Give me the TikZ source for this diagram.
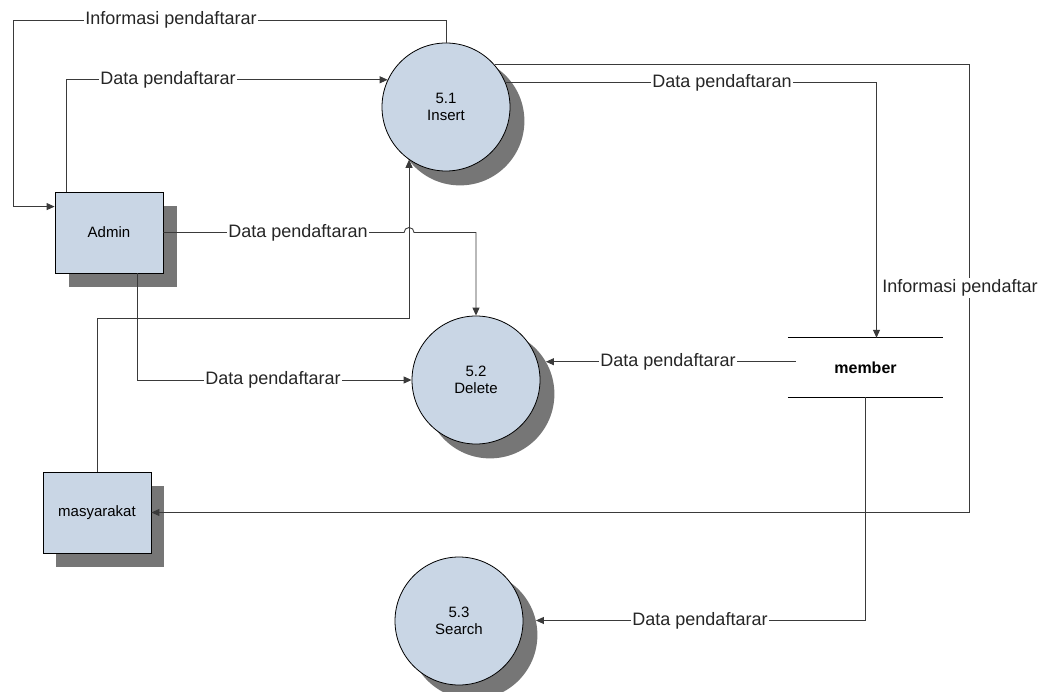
\documentclass[tikz,border=0pt]{standalone}
\usepackage{fontspec}
\setmainfont{Liberation Sans}
\usetikzlibrary{arrows.meta,calc}
\definecolor{procfill}{HTML}{C9D6E5}
\definecolor{shade}{HTML}{767676}
\definecolor{ln}{HTML}{3A3A3A}
\begin{document}
\begin{tikzpicture}[x=1pt,y=-1pt,
  proc/.style={circle,draw=black,fill=procfill,minimum size=128pt,inner sep=0pt,align=center,line width=0.8pt,font=\fontsize{15}{17}\selectfont},
  procshadow/.style={circle,fill=shade,minimum size=128.8pt,inner sep=0pt},
  ent/.style={rectangle,draw=black,fill=procfill,minimum width=108pt,minimum height=81pt,line width=0.8pt,font=\fontsize{15}{17}\selectfont},
  entshadow/.style={rectangle,fill=shade,minimum width=108.8pt,minimum height=81.8pt},
  store/.style={rectangle,minimum width=155pt,minimum height=59pt,inner sep=0pt,font=\fontsize{16}{18}\selectfont\bfseries},
  flow/.style={draw=ln,line width=0.9pt,-{Triangle[length=8pt,width=7pt]}},
  plain/.style={draw=ln,line width=0.9pt},
  lbl/.style={fill=white,inner sep=1.5pt,font=\fontsize{18}{20}\selectfont,text=black!85}]
\useasboundingbox (0,0) rectangle (1041,692);

% shadows
\node[procshadow] (insS) at (460,121) {};
\node[procshadow] (delS) at (490,394) {};
\node[procshadow] (seaS) at (473,635) {};
\node[entshadow] (admS) at (123,246.5) {};
\node[entshadow] (masS) at (110,526.5) {};

% main nodes
\node[proc] (ins) at (446,107) {5.1\\Insert};
\node[proc] (del) at (476,380) {5.2\\Delete};
\node[proc] (sea) at (459,621) {5.3\\Search};
\node[ent] (adm) at (109,232.5) {Admin};
\node[ent] (mas) at (97,512.5) {masyarakat};
\node[store] (mem) at (865.5,367.5) {member};
\draw[line width=0.9pt,black] (mem.north west) -- (mem.north east)
  (mem.south west) -- (mem.south east);

% helper coordinates
\coordinate (tl) at (13,20);
\coordinate (y318) at (0,318);
\coordinate (k1) at (ins.235 |- y318);
\coordinate (hop) at (ins.235 |- adm.east);
\coordinate (r1) at (969,288);

% connectors
\draw[flow] (ins.north) |- (tl) |- ($(adm.north west)+(0,15)$);
\draw[flow] ($(adm.north west)+(12,0)$) |- (ins.155);
\draw[flow] (adm.east) -- ($(hop)+(-5,0)$) arc[start angle=180,end angle=360,radius=5] -| (del.north);
\draw[flow] (mas.north) |- (k1) -- (ins.235);
\draw[flow] ($(adm.south)+(28,0)$) |- (del.west);
\draw[flow] (ins.22) -| ($(mem.north)+(11,0)$);
\draw[flow] (ins.41) -| (r1) |- (mas.east);
\draw[flow] ($(delS.30 -| mem.west)+(8,0)$) -- (delS.30);
\draw[flow] (mem.south) |- (seaS.13);

% labels
\node[lbl] (l1) at (171,20) {Informasi pendaftarar};
\node[lbl] (l2) at (168,80) {Data pendaftarar};
\node[lbl] (l3) at (298,232.5) {Data pendaftaran};
\node[lbl] (l4) at (273,380) {Data pendaftarar};
\node[lbl] (l5) at (722,83) {Data pendaftaran};
\node[lbl] (l6) at (960,288) {Informasi pendaftar};
\node[lbl] (l7) at (668,362) {Data pendaftarar};
\node[lbl] (l8) at (700,620.6) {Data pendaftarar};
\end{tikzpicture}
\end{document}
